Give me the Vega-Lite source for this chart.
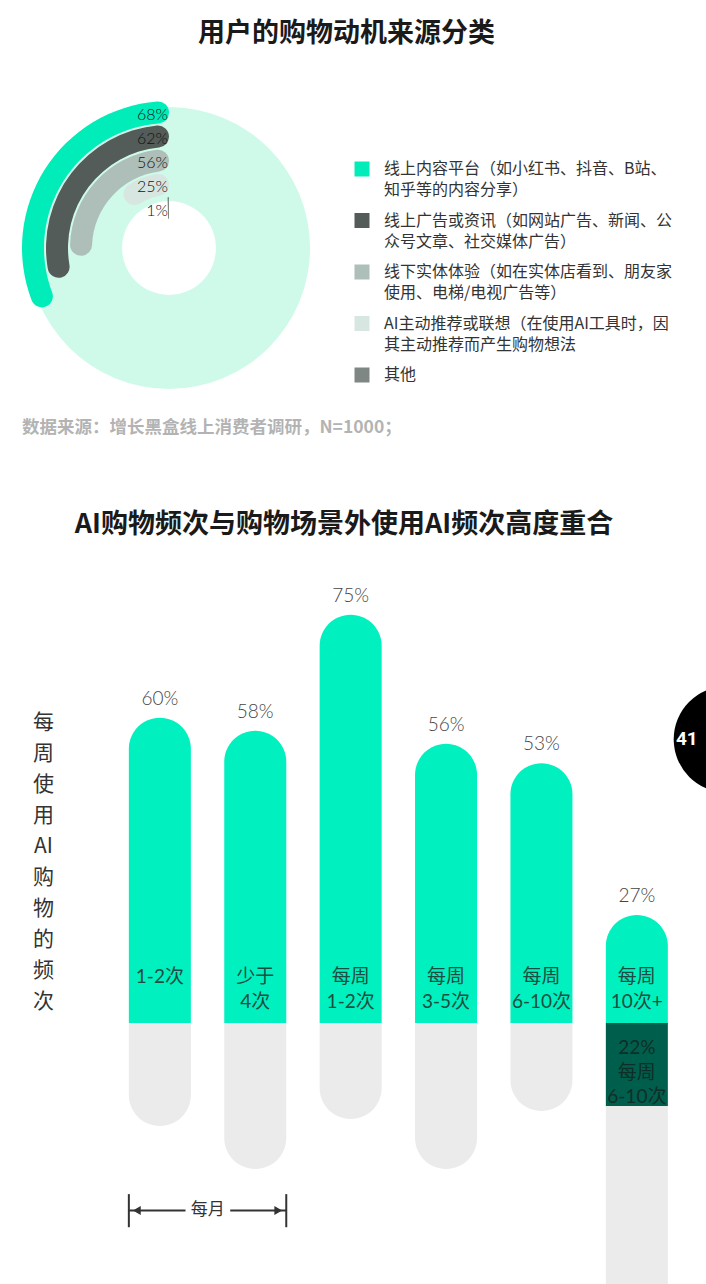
{
  "$schema": "https://vega.github.io/schema/vega-lite/v6.json",
  "background": "white",
  "padding": {"left": 22, "top": 20, "right": 0, "bottom": 0},
  "title": {
    "text": "用户的购物动机来源分类",
    "font": "Noto Sans CJK SC",
    "fontSize": 27,
    "fontWeight": "bold",
    "color": "#1a1a1a",
    "anchor": "middle",
    "dx": -18,
    "offset": 53
  },
  "spacing": 74,
  "vconcat": [
    {
      "width": 292,
      "height": 292,
      "title": {
        "text": "数据来源：增长黑盒线上消费者调研，N=1000；",
        "orient": "bottom",
        "anchor": "start",
        "font": "Noto Sans CJK SC",
        "fontSize": 17.5,
        "fontWeight": "bold",
        "color": "#B3B3B3",
        "offset": 25
      },
      "data": {
        "values": [
          {"cat": "线上内容平台（如小红书、抖音、B站、\n知乎等的内容分享）", "value": 68},
          {"cat": "线上广告或资讯（如网站广告、新闻、公\n众号文章、社交媒体广告）", "value": 62},
          {"cat": "线下实体体验（如在实体店看到、朋友家\n使用、电梯/电视广告等）", "value": 56},
          {"cat": "AI主动推荐或联想（在使用AI工具时，因\n其主动推荐而产生购物想法", "value": 25},
          {"cat": "其他", "value": 1}
        ]
      },
      "transform": [
        {"joinaggregate": [{"op": "sum", "field": "value", "as": "total"}]},
        {"calculate": "datum.value / datum.total", "as": "frac"},
        {"window": [{"op": "rank", "as": "rank"}], "sort": [{"field": "value", "order": "descending"}]},
        {"calculate": "datum.rank + 0.9167", "as": "rin"},
        {"calculate": "datum.rank + 0.4583", "as": "rmid"},
        {"calculate": "0", "as": "t0"},
        {"calculate": "datum.value + '%'", "as": "label"}
      ],
      "layer": [
        {
          "transform": [
            {"filter": "datum.rank == 1"},
            {"calculate": "1", "as": "t1"},
            {"calculate": "1.25", "as": "bgOut"},
            {"calculate": "5.17", "as": "bgIn"}
          ],
          "mark": {"type": "arc", "color": "#CFFAEA"},
          "encoding": {
            "theta": {"field": "t0", "type": "quantitative", "stack": null},
            "theta2": {"field": "t1"},
            "radius": {"field": "bgOut", "type": "quantitative"},
            "radius2": {"field": "bgIn"}
          }
        },
        {
          "mark": {"type": "arc", "cornerRadius": 11},
          "encoding": {
            "theta": {
              "field": "frac",
              "type": "quantitative",
              "stack": null,
              "scale": {"domain": [0, 1], "range": [0, -6.2832]}
            },
            "theta2": {"field": "t0"},
            "radius": {
              "field": "rank",
              "type": "quantitative",
              "scale": {"type": "linear", "domain": [0, 7.125], "range": [171, 0], "zero": false, "nice": false}
            },
            "radius2": {"field": "rin"},
            "color": {
              "field": "cat",
              "type": "nominal",
              "sort": null,
              "scale": {
                "domain": [
                  "线上内容平台（如小红书、抖音、B站、\n知乎等的内容分享）",
                  "线上广告或资讯（如网站广告、新闻、公\n众号文章、社交媒体广告）",
                  "线下实体体验（如在实体店看到、朋友家\n使用、电梯/电视广告等）",
                  "AI主动推荐或联想（在使用AI工具时，因\n其主动推荐而产生购物想法",
                  "其他"
                ],
                "range": ["#00EDB9", "#535C59", "#ADBFB8", "#D8E6E1", "#7F8784"]
              },
              "legend": {
                "orient": "none",
                "legendX": 331,
                "legendY": 59,
                "title": null,
                "padding": 0,
                "symbolType": "square",
                "symbolSize": 225,
                "symbolStrokeWidth": 0,
                "labelExpr": "split(datum.label, '\\n')",
                "labelFont": "Noto Sans CJK SC",
                "labelFontSize": 16,
                "labelColor": "#333333",
                "labelLimit": 400,
                "labelOffset": 14,
                "rowPadding": 14.5,
                "encode": {
                  "labels": {"update": {"lineHeight": {"value": 21}}}
                }
              }
            }
          }
        },
        {
          "mark": {
            "type": "text",
            "align": "right",
            "baseline": "middle",
            "dx": -1,
            "dy": 3,
            "font": "Lato",
            "fontWeight": 300,
            "fontSize": 16,
            "color": "#111111"
          },
          "encoding": {
            "theta": {"field": "t0", "type": "quantitative", "stack": null},
            "radius": {"field": "rmid", "type": "quantitative"},
            "text": {"field": "label"}
          }
        }
      ]
    },
    {
      "width": 684,
      "height": 724,
      "title": {
        "text": "AI购物频次与购物场景外使用AI频次高度重合",
        "font": "Noto Sans CJK SC",
        "fontSize": 27,
        "fontWeight": "bold",
        "color": "#1a1a1a",
        "anchor": "middle",
        "dx": -21,
        "offset": 22
      },
      "layer": [
        {
          "data": {
            "values": [
              {"cat": "1-2次", "lines": "1-2次", "value": 60, "tail": 26},
              {"cat": "少于4次", "lines": "少于\n4次", "value": 58, "tail": 34},
              {"cat": "每周1-2次", "lines": "每周\n1-2次", "value": 75, "tail": 24.6},
              {"cat": "每周3-5次", "lines": "每周\n3-5次", "value": 56, "tail": 34},
              {"cat": "每周6-10次", "lines": "每周\n6-10次", "value": 53, "tail": 23},
              {"cat": "每周10次+", "lines": "每周\n10次+", "value": 27, "sub": 22, "subLines": "22%\n每周\n6-10次", "tail": 80}
            ]
          },
          "transform": [
            {"calculate": "datum.sub ? -datum.sub : 0", "as": "subNeg"},
            {"calculate": "-datum.tail", "as": "tailNeg"},
            {"calculate": "0", "as": "base"},
            {"calculate": "16", "as": "labelPos"},
            {"calculate": "datum.value + '%'", "as": "valueLabel"},
            {"calculate": "split(datum.lines, '\\n')", "as": "lineArr"},
            {"calculate": "datum.subLines ? split(datum.subLines, '\\n') : ''", "as": "subArr"}
          ],
          "encoding": {
            "x": {
              "field": "cat",
              "type": "nominal",
              "sort": null,
              "scale": {
                "domain": ["1-2次", "少于4次", "每周1-2次", "每周3-5次", "每周6-10次", "每周10次+"],
                "paddingInner": 0.35,
                "paddingOuter": 0.76,
                "align": 0.73
              },
              "axis": null
            }
          },
          "layer": [
            {
              "mark": {"type": "bar", "color": "#EBEBEB", "cornerRadiusBottomLeft": 31, "cornerRadiusBottomRight": 31, "clip": true},
              "encoding": {
                "y": {
                  "field": "subNeg",
                  "type": "quantitative",
                  "scale": {"type": "pow", "exponent": 1.3, "domain": [-53.3, 82.5], "zero": false, "nice": false},
                  "axis": {
                    "title": ["每", "周", "使", "用", "AI", "购", "物", "的", "频", "次"],
                    "labels": false,
                    "ticks": false,
                    "domain": false,
                    "grid": false,
                    "titleAngle": 0,
                    "titleX": 20,
                    "titleY": 150,
                    "titleAlign": "center",
                    "titleBaseline": "top",
                    "titleFont": "Noto Sans CJK SC",
                    "titleFontSize": 21,
                    "titleFontWeight": "normal",
                    "titleLineHeight": 31,
                    "titleColor": "#333333"
                  }
                },
                "y2": {"field": "tailNeg"}
              }
            },
            {
              "mark": {"type": "bar", "color": "#00F0BF", "cornerRadiusTopLeft": 31, "cornerRadiusTopRight": 31},
              "encoding": {
                "y": {"field": "value", "type": "quantitative"},
                "y2": {"field": "base"}
              }
            },
            {
              "transform": [{"filter": "datum.sub"}],
              "mark": {"type": "bar", "color": "#005E4C"},
              "encoding": {
                "y": {"field": "base", "type": "quantitative"},
                "y2": {"field": "subNeg"}
              }
            },
            {
              "mark": {"type": "text", "baseline": "bottom", "dy": -9, "font": "Lato", "fontWeight": 300, "fontSize": 19, "color": "#444444"},
              "encoding": {
                "y": {"field": "value", "type": "quantitative"},
                "text": {"field": "valueLabel"}
              }
            },
            {
              "mark": {"type": "text", "baseline": "top", "lineHeight": 25, "font": "Lato, Noto Sans CJK SC", "fontSize": 19, "color": "#1C4D41"},
              "encoding": {
                "y": {"field": "labelPos", "type": "quantitative"},
                "text": {"field": "lineArr"}
              }
            },
            {
              "transform": [{"filter": "datum.sub"}],
              "mark": {"type": "text", "baseline": "top", "dy": 16, "lineHeight": 24.5, "font": "Lato, Noto Sans CJK SC", "fontSize": 19, "color": "#0E2E27"},
              "encoding": {
                "y": {"field": "base", "type": "quantitative"},
                "text": {"field": "subArr"}
              }
            }
          ]
        },
        {
          "data": {"values": [{"from": "1-2次", "to": "少于4次", "label": "每月"}]},
          "transform": [
            {"calculate": "-41.2", "as": "yMid"},
            {"calculate": "-38.4", "as": "yTop"},
            {"calculate": "-44", "as": "yBot"}
          ],
          "layer": [
            {
              "mark": {"type": "rule", "color": "#333333", "strokeWidth": 2},
              "encoding": {
                "x": {"field": "from", "type": "nominal", "bandPosition": 0},
                "x2": {"field": "to", "bandPosition": 1},
                "y": {"field": "yMid", "type": "quantitative"}
              }
            },
            {
              "mark": {"type": "rule", "color": "#333333", "strokeWidth": 2},
              "encoding": {
                "x": {"field": "from", "type": "nominal", "bandPosition": 0},
                "y": {"field": "yTop", "type": "quantitative"},
                "y2": {"field": "yBot"}
              }
            },
            {
              "mark": {"type": "rule", "color": "#333333", "strokeWidth": 2},
              "encoding": {
                "x": {"field": "to", "type": "nominal", "bandPosition": 1},
                "y": {"field": "yTop", "type": "quantitative"},
                "y2": {"field": "yBot"}
              }
            },
            {
              "mark": {"type": "point", "shape": "triangle-left", "filled": true, "size": 80, "color": "#333333", "opacity": 1, "xOffset": 8},
              "encoding": {
                "x": {"field": "from", "type": "nominal", "bandPosition": 0},
                "y": {"field": "yMid", "type": "quantitative"}
              }
            },
            {
              "mark": {"type": "point", "shape": "triangle-right", "filled": true, "size": 80, "color": "#333333", "opacity": 1, "xOffset": -8},
              "encoding": {
                "x": {"field": "to", "type": "nominal", "bandPosition": 1},
                "y": {"field": "yMid", "type": "quantitative"}
              }
            },
            {
              "mark": {"type": "point", "shape": "square", "filled": true, "size": 2000, "color": "white", "opacity": 1, "xOffset": 17},
              "encoding": {
                "x": {"field": "from", "type": "nominal", "bandPosition": 1},
                "y": {"field": "yMid", "type": "quantitative"}
              }
            },
            {
              "mark": {"type": "text", "baseline": "middle", "dx": 17, "font": "Noto Sans CJK SC", "fontSize": 17, "color": "#333333"},
              "encoding": {
                "x": {"field": "from", "type": "nominal", "bandPosition": 1},
                "y": {"field": "yMid", "type": "quantitative"},
                "text": {"field": "label"}
              }
            }
          ]
        },
        {
          "data": {"values": [{"page": "41"}]},
          "transform": [
            {"calculate": "'每周10次+'", "as": "anchorCat"},
            {"calculate": "56.7", "as": "yPos"}
          ],
          "layer": [
            {
              "mark": {"type": "point", "shape": "circle", "filled": true, "size": 11300, "color": "black", "opacity": 1, "xOffset": 90, "clip": true},
              "encoding": {
                "x": {"field": "anchorCat", "type": "nominal"},
                "y": {"field": "yPos", "type": "quantitative"}
              }
            },
            {
              "mark": {"type": "text", "dx": 50, "baseline": "middle", "font": "Roboto", "fontWeight": "bold", "fontSize": 19, "color": "white", "clip": true},
              "encoding": {
                "x": {"field": "anchorCat", "type": "nominal"},
                "y": {"field": "yPos", "type": "quantitative"},
                "text": {"field": "page"}
              }
            }
          ]
        }
      ]
    }
  ],
  "config": {
    "view": {"stroke": null},
    "font": "Noto Sans CJK SC"
  }
}
